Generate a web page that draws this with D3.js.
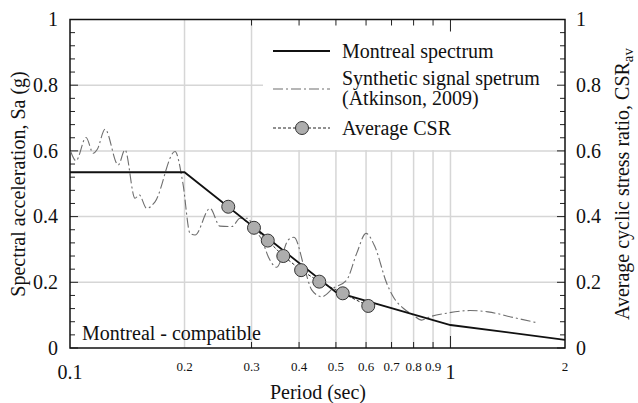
<!DOCTYPE html>
<meta charset="utf-8">
<style>
	body { margin: 0; background: #fff; }
	svg text { font-family: "Liberation Serif", "Times New Roman", serif; fill: #111; }
</style>
<body>
<svg id="chart"></svg>
</body>
<script src="https://cdn.jsdelivr.net/npm/d3@7"></script>
<script>
	// Montreal design spectrum
	var montrealT  = [0.1, 0.2, 0.5, 1.0, 2.0];
	var montrealSa = [0.535, 0.535, 0.17, 0.07, 0.025];

	// synthetic signal spectrum (Atkinson, 2009)
	var synthT  = [0.1004, 0.1037, 0.1102, 0.1151, 0.1180, 0.1236, 0.1339, 0.1395, 0.1482, 0.1521,
	               0.1590, 0.1673, 0.1888, 0.198, 0.2068, 0.2131, 0.2333, 0.2478, 0.2666, 0.2798,
	               0.2942, 0.3027, 0.3196, 0.3320, 0.3493, 0.3747, 0.3879, 0.4146, 0.4317, 0.4587,
	               0.4920, 0.5336, 0.5669, 0.5998, 0.6332, 0.6799, 0.7073, 0.7516, 0.7983, 0.8401,
	               0.8833, 0.9772, 1.125, 1.255, 1.462, 1.685];
	var synthSa = [0.598, 0.570, 0.641, 0.593, 0.605, 0.666, 0.557, 0.603, 0.456, 0.466,
	               0.425, 0.445, 0.598, 0.502, 0.349, 0.344, 0.425, 0.371, 0.370, 0.395,
	               0.395, 0.365, 0.329, 0.278, 0.246, 0.329, 0.337, 0.237, 0.177, 0.156,
	               0.182, 0.207, 0.288, 0.349, 0.308, 0.197, 0.156, 0.121, 0.100, 0.085,
	               0.095, 0.106, 0.114, 0.110, 0.093, 0.077];

	// average CSR points
	var csrT = [0.2606, 0.3045, 0.331, 0.3636, 0.405, 0.452, 0.521, 0.608];
	var csrV = [0.43, 0.366, 0.327, 0.28, 0.237, 0.202, 0.1665, 0.128];

	var majorX = [0.1, 1];
	var minorX = [0.2, 0.3, 0.4, 0.5, 0.6, 0.7, 0.8, 0.9, 2];
	var yTicks = [0, 0.2, 0.4, 0.6, 0.8, 1];

	var W = 638, H = 403;
	var pLeft = 70, pRight = 565, pTop = 19.5, pBottom = 348;

	var svg = d3.select("#chart").attr("width", W).attr("height", H);

	var x = d3.scaleLog().domain([0.1, 2]).range([pLeft, pRight]);
	var y = d3.scaleLinear().domain([0, 1]).range([pBottom, pTop]);

	// grid
	var grid = svg.append("g").attr("stroke", "#d6d6d6").attr("stroke-width", 1.5);
	grid.selectAll("line.v").data([0.2, 0.3, 0.4, 0.5, 0.6, 0.7, 0.8, 0.9, 1]).enter().append("line")
		.attr("x1", d => x(d)).attr("x2", d => x(d)).attr("y1", pTop).attr("y2", pBottom);
	grid.selectAll("line.h").data([0.2, 0.4, 0.6, 0.8]).enter().append("line")
		.attr("x1", pLeft).attr("x2", pRight).attr("y1", d => y(d)).attr("y2", d => y(d));

	// legend background hides the grid
	svg.append("rect").attr("x", 263).attr("y", pTop).attr("width", pRight - 263).attr("height", 150 - pTop)
		.attr("fill", "#fff");

	// ticks, inward on every side
	var tk = svg.append("g").attr("stroke", "#222").attr("stroke-width", 1);
	var yMinor = d3.range(0, 1.0001, 0.04);
	yMinor.forEach(function(v) {
		var len = (Math.round(v * 100) % 20 === 0) ? 8 : 5;
		tk.append("line").attr("x1", pLeft).attr("x2", pLeft + len).attr("y1", y(v)).attr("y2", y(v));
		tk.append("line").attr("x1", pRight).attr("x2", pRight - len).attr("y1", y(v)).attr("y2", y(v));
	});
	[0.3, 0.4, 0.5, 0.6, 0.7, 0.8, 0.9].forEach(function(v) {
		tk.append("line").attr("x1", x(v)).attr("x2", x(v)).attr("y1", pTop).attr("y2", pTop + 6);
		tk.append("line").attr("x1", x(v)).attr("x2", x(v)).attr("y1", pBottom).attr("y2", pBottom - 6);
	});
	tk.append("line").attr("x1", x(1)).attr("x2", x(1)).attr("y1", pBottom).attr("y2", pBottom - 12);
	tk.append("line").attr("x1", x(1)).attr("x2", x(1)).attr("y1", pTop).attr("y2", pTop + 12);

	// frame
	svg.append("rect").attr("x", pLeft).attr("y", pTop).attr("width", pRight - pLeft).attr("height", pBottom - pTop)
		.attr("fill", "none").attr("stroke", "#111").attr("stroke-width", 1.5);

	// y labels
	svg.selectAll("text.yl").data(yTicks).enter().append("text")
		.attr("x", 58).attr("y", d => y(d)).attr("dy", "0.33em")
		.attr("text-anchor", "end").style("font-size", "20px").text(d => d);
	svg.selectAll("text.yr").data(yTicks).enter().append("text")
		.attr("x", 576).attr("y", d => y(d)).attr("dy", "0.33em")
		.attr("text-anchor", "start").style("font-size", "20px").text(d => d);

	// x labels
	svg.selectAll("text.xM").data(majorX).enter().append("text")
		.attr("x", d => x(d)).attr("y", 379).attr("text-anchor", "middle")
		.style("font-size", "20px").text(d => d);
	svg.selectAll("text.xm").data(minorX).enter().append("text")
		.attr("x", d => x(d)).attr("y", 371).attr("text-anchor", "middle")
		.style("font-size", "13px").text(d => d);

	// axis titles
	svg.append("text").attr("x", 318).attr("y", 399).attr("text-anchor", "middle")
		.style("font-size", "20px").text("Period (sec)");
	svg.append("text").attr("transform", "translate(25,184) rotate(-90)").attr("text-anchor", "middle")
		.style("font-size", "20px").text("Spectral acceleration, Sa (g)");
	var rt = svg.append("text").attr("transform", "translate(629,184) rotate(-90)").attr("text-anchor", "middle")
		.style("font-size", "20px");
	rt.append("tspan").text("Average cyclic stress ratio, CSR");
	rt.append("tspan").attr("dy", 4).style("font-size", "15px").text("av");

	svg.append("text").attr("x", 82).attr("y", 340).style("font-size", "20px").text("Montreal - compatible");

	// series
	var synth = synthT.map((t, i) => [t, synthSa[i]]);
	var mont = montrealT.map((t, i) => [t, montrealSa[i]]);
	var csr = csrT.map((t, i) => [t, csrV[i]]);

	var smooth = d3.line().x(d => x(d[0])).y(d => y(d[1])).curve(d3.curveMonotoneX);
	var straight = d3.line().x(d => x(d[0])).y(d => y(d[1]));

	svg.append("path").attr("d", smooth(synth)).attr("fill", "none")
		.attr("stroke", "#6e6e6e").attr("stroke-width", 1.1).attr("stroke-dasharray", "10,3,2,3");
	svg.append("path").attr("d", straight(csr)).attr("fill", "none")
		.attr("stroke", "#222").attr("stroke-width", 1).attr("stroke-dasharray", "3,2");
	svg.append("path").attr("d", straight(mont)).attr("fill", "none")
		.attr("stroke", "#111").attr("stroke-width", 1.8);
	svg.selectAll("circle.csr").data(csr).enter().append("circle")
		.attr("cx", d => x(d[0])).attr("cy", d => y(d[1])).attr("r", 6.5)
		.attr("fill", "#adadad").attr("stroke", "#333").attr("stroke-width", 1);

	// legend
	var lg = svg.append("g");
	lg.append("line").attr("x1", 273).attr("x2", 330).attr("y1", 51).attr("y2", 51)
		.attr("stroke", "#111").attr("stroke-width", 1.8);
	lg.append("line").attr("x1", 273).attr("x2", 330).attr("y1", 89).attr("y2", 89)
		.attr("stroke", "#6e6e6e").attr("stroke-width", 1.1).attr("stroke-dasharray", "10,3,2,3");
	lg.append("line").attr("x1", 273).attr("x2", 330).attr("y1", 128).attr("y2", 128)
		.attr("stroke", "#222").attr("stroke-width", 1).attr("stroke-dasharray", "3,2");
	lg.append("circle").attr("cx", 302).attr("cy", 128).attr("r", 6.5)
		.attr("fill", "#adadad").attr("stroke", "#333");
	[["Montreal spectrum", 51], ["Synthetic signal spetrum", 78], ["(Atkinson, 2009)", 98], ["Average CSR", 128]]
		.forEach(function(d) {
			lg.append("text").attr("x", 342).attr("y", d[1]).attr("dy", "0.33em")
				.style("font-size", "20px").text(d[0]);
		});
</script>
